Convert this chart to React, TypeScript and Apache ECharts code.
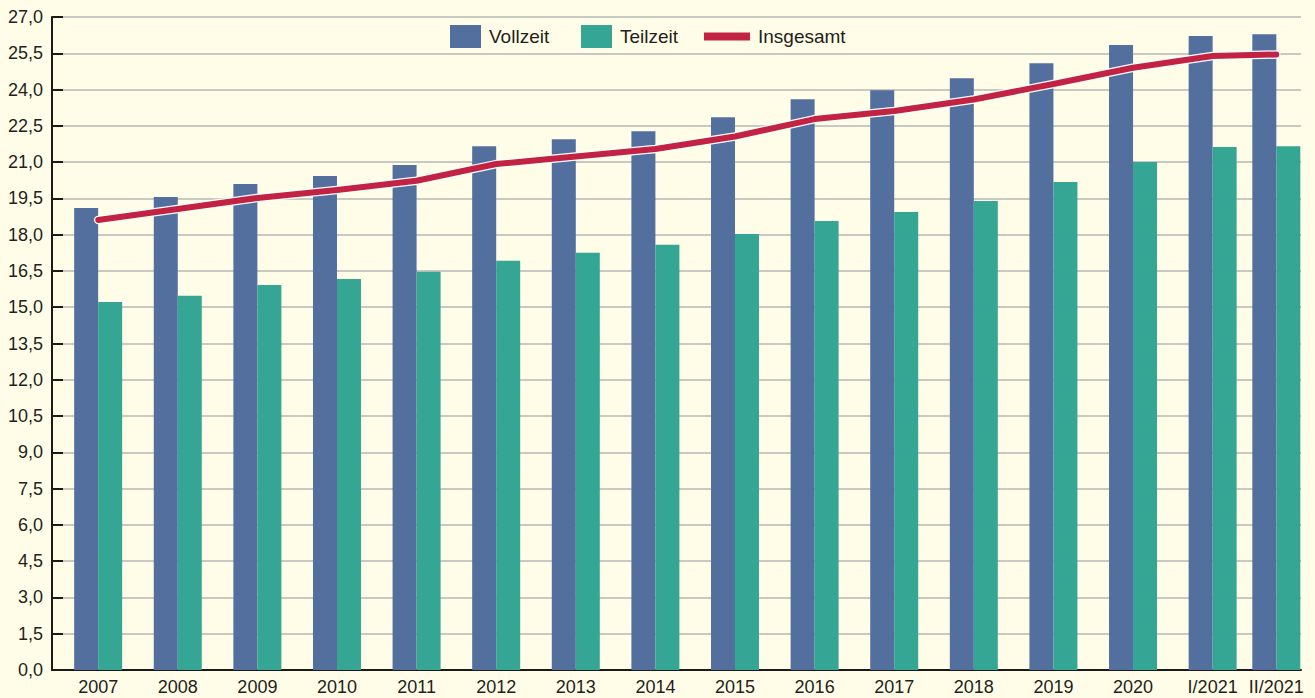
import React, { useEffect, useRef } from "react";
import * as echarts from "echarts";

const categories = ["2007", "2008", "2009", "2010", "2011", "2012", "2013", "2014", "2015", "2016", "2017", "2018", "2019", "2020", "I/2021", "II/2021"];
// position of each category on the (unevenly spaced) time axis
const xPositions = [0, 1, 2, 3, 4, 5, 6, 7, 8, 9, 10, 11, 12, 13, 14, 14.8];
const vollzeit = [19.1, 19.56, 20.09, 20.43, 20.88, 21.66, 21.95, 22.28, 22.86, 23.6, 23.97, 24.47, 25.09, 25.84, 26.21, 26.29];
const teilzeit = [15.22, 15.47, 15.92, 16.17, 16.47, 16.92, 17.25, 17.58, 18.03, 18.57, 18.94, 19.39, 20.18, 21.0, 21.62, 21.66];
const insgesamt = [18.61, 19.06, 19.52, 19.85, 20.23, 20.92, 21.23, 21.54, 22.06, 22.78, 23.11, 23.59, 24.23, 24.9, 25.39, 25.45];

const FONT = "'Liberation Sans', Arial, sans-serif";
const TXT = "#231f20";
const BLUE = "#536F9E";
const TEAL = "#35A594";
const RED = "#C22343";

export default function App() {
  const ref = useRef<HTMLDivElement>(null);
  useEffect(() => {
    if (!ref.current) return;
    const chart = echarts.init(ref.current, undefined, { renderer: "svg" });
    const pair = (arr: number[]) => arr.map((v, i) => [xPositions[i], v]);
    const legendBase = {
      orient: "horizontal",
      padding: 0,
      textStyle: { fontFamily: FONT, fontSize: 19, color: TXT, padding: [0, 0, 0, 3] },
      selectedMode: false,
    };
    chart.setOption({
      animation: false,
      backgroundColor: "#FFFDE7",
      textStyle: { fontFamily: FONT },
      legend: [
        { ...legendBase, data: [{ name: "Vollzeit", icon: "rect" }], left: 450, top: 25, itemWidth: 31, itemHeight: 23 },
        { ...legendBase, data: [{ name: "Teilzeit", icon: "rect" }], left: 581, top: 25, itemWidth: 31, itemHeight: 23 },
        { ...legendBase, data: [{ name: "Insgesamt", icon: "rect" }], left: 704, top: 27, itemWidth: 46, itemHeight: 8 },
      ],
      grid: { left: 52, right: 14, top: 17, bottom: 28 },
      xAxis: {
        type: "value",
        min: -0.58,
        max: 15.11,
        splitLine: { show: false },
        axisLine: { show: true, onZero: false, lineStyle: { color: "#1a1a1a", width: 2 } },
        axisTick: { show: false },
        axisLabel: {
          customValues: xPositions,
          formatter: (v: number) => {
            let best = 0;
            xPositions.forEach((p, i) => {
              if (Math.abs(p - v) < Math.abs(xPositions[best] - v)) best = i;
            });
            return categories[best];
          },
          fontFamily: FONT,
          fontSize: 18,
          color: TXT,
          margin: 8,
        },
      },
      yAxis: {
        type: "value",
        min: 0,
        max: 27,
        interval: 1.5,
        axisLine: { show: true, onZero: false, lineStyle: { color: "#1a1a1a", width: 2 } },
        axisTick: { show: true, inside: true, length: 11, lineStyle: { color: "#1a1a1a", width: 2 } },
        splitLine: { show: true, lineStyle: { color: "#c9c9c4", width: 2 } },
        axisLabel: {
          formatter: (v: number) => v.toFixed(1).replace(".", ","),
          fontFamily: FONT,
          fontSize: 18,
          color: TXT,
          margin: 9,
        },
      },
      series: [
        { name: "Vollzeit", type: "bar", data: pair(vollzeit), barWidth: 24, barGap: "0%", itemStyle: { color: BLUE } },
        { name: "Teilzeit", type: "bar", data: pair(teilzeit), barWidth: 24, barGap: "0%", itemStyle: { color: TEAL } },
        {
          name: "outline",
          type: "line",
          data: pair(insgesamt),
          symbol: "none",
          silent: true,
          lineStyle: { color: "#ffffff", width: 8.5, cap: "round", join: "round" },
          itemStyle: { color: "#ffffff" },
        },
        {
          name: "Insgesamt",
          type: "line",
          data: pair(insgesamt),
          symbol: "none",
          lineStyle: { color: RED, width: 6, cap: "round", join: "round" },
          itemStyle: { color: RED },
        },
      ],
    });
    return () => chart.dispose();
  }, []);
  return <div ref={ref} style={{ position: "fixed", left: 0, top: 0, width: 1315, height: 698 }} />;
}
